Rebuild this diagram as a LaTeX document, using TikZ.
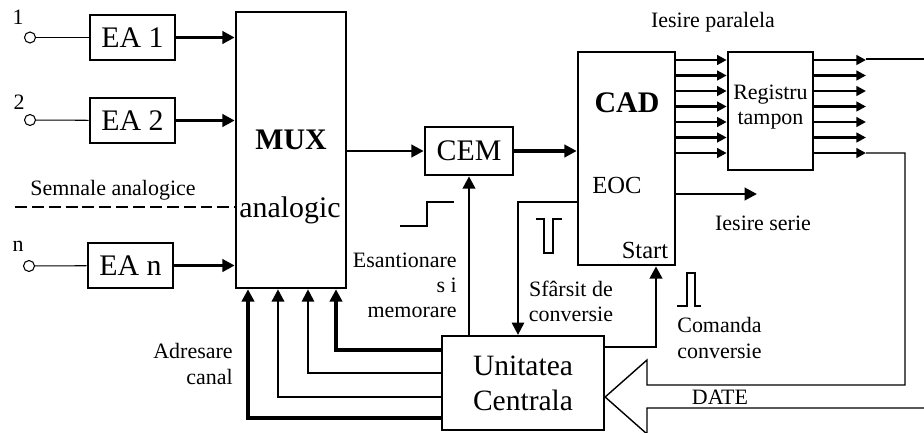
\documentclass[tikz,border=0pt]{standalone}
\usepackage{fontspec}
\setmainfont{Liberation Serif}
\usetikzlibrary{arrows.meta, positioning, calc}

\newcommand{\bigtxt}{\fontsize{17}{20}\selectfont}
\newcommand{\midtxt}{\fontsize{14}{16}\selectfont}
\newcommand{\smtxt}{\fontsize{12.5}{14.3}\selectfont}

\begin{document}
\begin{tikzpicture}[x=0.02cm, y=-0.02cm,
  blk/.style={draw, line width=1.5pt, inner sep=0pt, align=center},
  eabox/.style={blk, minimum width=1.7cm, minimum height=0.9cm, font=\bigtxt},
  arr/.style={-{Triangle[length=7pt, width=7pt]}, line width=1.8pt},
  arrs/.style={-{Triangle[length=5.5pt, width=5.5pt]}, line width=1.5pt},
  pin/.style={circle, draw, line width=0.6pt, minimum size=0.22cm, inner sep=0pt},
  txt/.style={font=\smtxt, inner sep=0pt, align=center},
  sig/.style={line width=0.6pt},
]
\useasboundingbox (0,0) rectangle (924,433);

\node[pin] (in1) at (30,37.5) {};
\node[pin] (in2) at (30,120) {};
\node[pin] (inn) at (29,266) {};
\node[txt] (lab1) at (18,17) {1};
\node[txt] (lab2) at (19,102) {2};
\node[txt] (labn) at (18,246) {n};

\node[eabox] (ea1) at (132.5,37.5) {EA 1};
\node[eabox] (ea2) at (132.5,120.5) {EA 2};
\node[eabox] (ean) at (130.5,265.5) {EA n};
\node[blk, minimum width=2.2cm, minimum height=5.52cm] (mux) at (291,150) {};
\node[font=\bigtxt\bfseries] (muxname) at (291,140) {MUX};
\node[font=\bigtxt] (muxtype) at (290,210) {analogic};
\node[blk, minimum width=1.76cm, minimum height=0.96cm, font=\bigtxt] (cem) at (469,151) {CEM};
\node[blk, minimum width=1.94cm, minimum height=4.26cm] (cad) at (626.5,158.5) {};
\node[font=\bigtxt\bfseries] (cadname) at (627,103) {CAD};
\node[font=\midtxt] (eoc) at (617,185) {EOC};
\node[font=\midtxt] (start) at (645,250) {Start};
\node[blk, minimum width=1.7cm, minimum height=2.36cm] (reg) at (770.5,111) {};
\node[txt] (regname) at (770.5,107) {Registru\\tampon};
\node[blk, line width=1.3pt, minimum width=3.24cm, minimum height=1.88cm,
      font=\fontsize{16.8}{20}\selectfont] (uc) at (523,383) {Unitatea\\Centrala};

\node[txt] (semn) at (113,190) {Semnale analogice};
\node[txt] (parl) at (713,22) {Iesire paralela};
\node[txt] (ser) at (763,223) {Iesire serie};
\node[txt, align=right, anchor=east] (esm) at (457,285) {Esantionare\\s i\\memorare};
\node[txt] (sfc) at (571,301) {Sfârsit de\\conversie};
\node[txt, align=left, anchor=west] (cmd) at (677,338) {Comanda\\conversie};
\node[txt, align=right, anchor=east] (adr) at (233,364) {Adresare\\canal};
\node[txt] (date) at (720,397) {DATE};

\coordinate (dstart) at (15,207);
\coordinate (serend) at (757,194);
\coordinate (pout) at (866,0);
\coordinate (pend) at (924,59);

\draw[sig] (in1) -- (ea1);
\draw[sig] (in2) -- (ea2);
\draw[sig] (inn) -- (ean);
\draw[arr] (ea1) -- (ea1 -| mux.west);
\draw[arr] (ea2) -- (ea2 -| mux.west);
\draw[arr] (ean) -- (ean -| mux.west);
\draw[line width=1.7pt, dash pattern=on 6.8pt off 2.8pt] (dstart) -- (dstart -| mux.west);

\draw[arr, line width=1.7pt] (mux.east |- cem) -- (cem.west);
\draw[arr, line width=2.4pt] (cem.east) -- (cem.east -| cad.west);
\draw[arr, line width=1.6pt] (uc.north -| cem.south) -- (cem.south);
\foreach \x/\y/\w in {336/350/1.9, 308/373/1.1, 278/397/1.4, 248/418/1.9}
  \draw[arr, line width=\w pt] (uc.west |- 0,\y) -| (\x,0 |- mux.south);
\draw[arr, line width=1.2pt] (cad.west |- 0,202) -| (518,0 |- uc.north);
\draw[arr, line width=1.6pt] (uc.east |- 0,347) -| (656,0 |- cad.south);
\draw[arr, line width=1.6pt] (cad.east |- serend) -- (serend);

\foreach \y in {60,75.5,91,106.5,122,137.5,153} {
  \draw[arrs] (cad.east |- 0,\y) -- (reg.west |- 0,\y);
  \draw[arrs] (reg.east |- 0,\y) -- (pout |- 0,\y);
}
\draw[sig] (pout |- pend) -- (pend);
\draw[line width=0.8pt, line join=miter] (pout |- 0,153) -| (905,385) -- (647,385) -- (647,360)
  -- (uc.east |- 0,397) -- (647,434) -- (647,408) -- (924,408);

\draw[sig] (400,226) -- (427,226) -- (427,202) -- (454,202);
\draw[sig] (536,219) -- (544,219) -- (544,253) -- (553,253) -- (553,219) -- (562,219);
\draw[sig] (677,306) -- (687,306) -- (687,273) -- (695,273) -- (695,306) -- (701,306);
\end{tikzpicture}
\end{document}
